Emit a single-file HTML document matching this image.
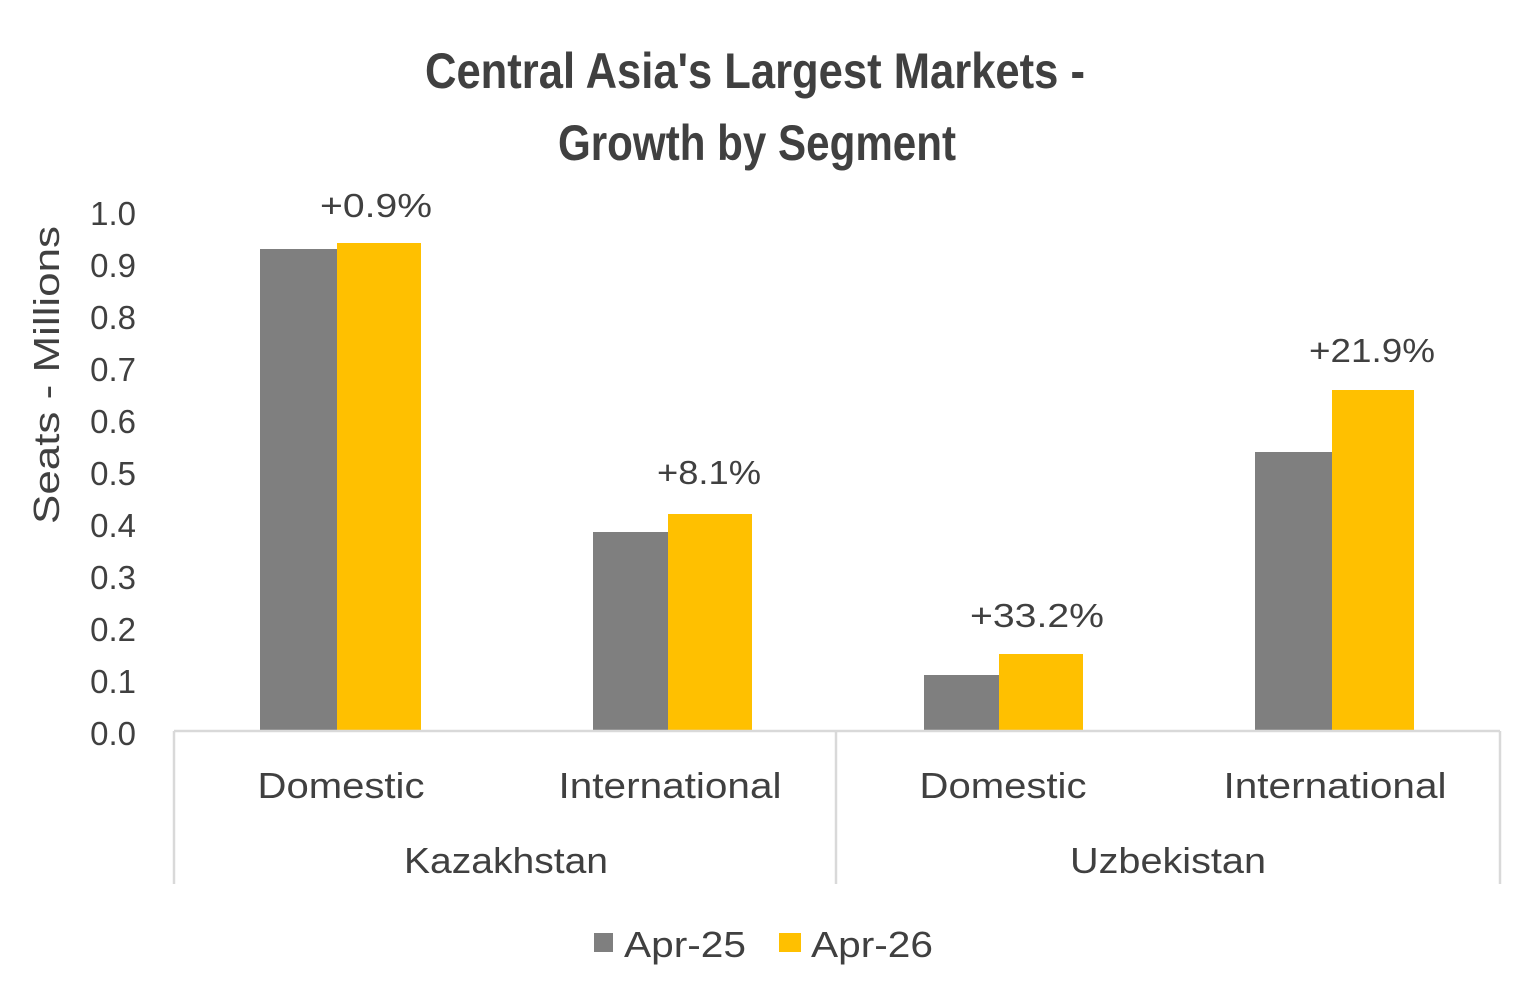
<!DOCTYPE html>
<html><head><meta charset="utf-8"><style>
html,body{margin:0;padding:0;background:#fff;}
svg{display:block;}
text{font-family:"Liberation Sans",sans-serif;fill:#404040;}
</style></head><body>
<svg width="1534" height="986" viewBox="0 0 1534 986" xmlns="http://www.w3.org/2000/svg">
<rect width="1534" height="986" fill="#fff"/>
<g style="font-family:'Liberation Sans Narrow','Liberation Sans',sans-serif;font-weight:bold;" font-size="50" fill="#404040">
<text x="755" y="88" text-anchor="middle" textLength="660" lengthAdjust="spacingAndGlyphs">Central Asia's Largest Markets -</text>
<text x="757" y="160" text-anchor="middle" textLength="398" lengthAdjust="spacingAndGlyphs">Growth by Segment</text>
</g>
<g font-size="33" text-anchor="end">
<text x="136" y="225">1.0</text><text x="136" y="277">0.9</text><text x="136" y="329">0.8</text>
<text x="136" y="381">0.7</text><text x="136" y="433">0.6</text><text x="136" y="485">0.5</text>
<text x="136" y="537">0.4</text><text x="136" y="589">0.3</text><text x="136" y="641">0.2</text>
<text x="136" y="693">0.1</text><text x="136" y="745">0.0</text>
</g>
<text transform="translate(59,375) rotate(-90)" font-size="36" text-anchor="middle" textLength="298" lengthAdjust="spacingAndGlyphs">Seats - Millions</text>
<g fill="#7f7f7f">
<rect x="260" y="249" width="77" height="482"/>
<rect x="593" y="532" width="75" height="199"/>
<rect x="924" y="675" width="75" height="56"/>
<rect x="1255" y="452" width="77" height="279"/>
</g>
<g fill="#ffc000">
<rect x="337" y="243" width="84" height="488"/>
<rect x="668" y="514" width="84" height="217"/>
<rect x="999" y="654" width="84" height="77"/>
<rect x="1332" y="390" width="82" height="341"/>
</g>
<g font-size="33" text-anchor="middle">
<text x="376" y="217" textLength="112" lengthAdjust="spacingAndGlyphs">+0.9%</text>
<text x="709" y="484" textLength="104" lengthAdjust="spacingAndGlyphs">+8.1%</text>
<text x="1037" y="627" textLength="134" lengthAdjust="spacingAndGlyphs">+33.2%</text>
<text x="1372" y="362" textLength="126" lengthAdjust="spacingAndGlyphs">+21.9%</text>
</g>
<g stroke="#d9d9d9" stroke-width="2.5" fill="none">
<line x1="174" y1="731" x2="1500" y2="731"/>
<line x1="174" y1="731" x2="174" y2="884"/>
<line x1="836" y1="731" x2="836" y2="884"/>
<line x1="1500" y1="731" x2="1500" y2="884"/>
</g>
<g font-size="36" text-anchor="middle">
<text x="341" y="798" textLength="167" lengthAdjust="spacingAndGlyphs">Domestic</text>
<text x="670" y="798" textLength="223" lengthAdjust="spacingAndGlyphs">International</text>
<text x="1003" y="798" textLength="167" lengthAdjust="spacingAndGlyphs">Domestic</text>
<text x="1335" y="798" textLength="223" lengthAdjust="spacingAndGlyphs">International</text>
<text x="506" y="873" textLength="204" lengthAdjust="spacingAndGlyphs">Kazakhstan</text>
<text x="1168" y="873" textLength="196" lengthAdjust="spacingAndGlyphs">Uzbekistan</text>
</g>
<rect x="594" y="933" width="19" height="19" fill="#7f7f7f"/>
<text x="624" y="957" font-size="36" textLength="122" lengthAdjust="spacingAndGlyphs">Apr-25</text>
<rect x="779" y="933" width="22" height="19" fill="#ffc000"/>
<text x="811" y="957" font-size="36" textLength="122" lengthAdjust="spacingAndGlyphs">Apr-26</text>
</svg>
</body></html>
